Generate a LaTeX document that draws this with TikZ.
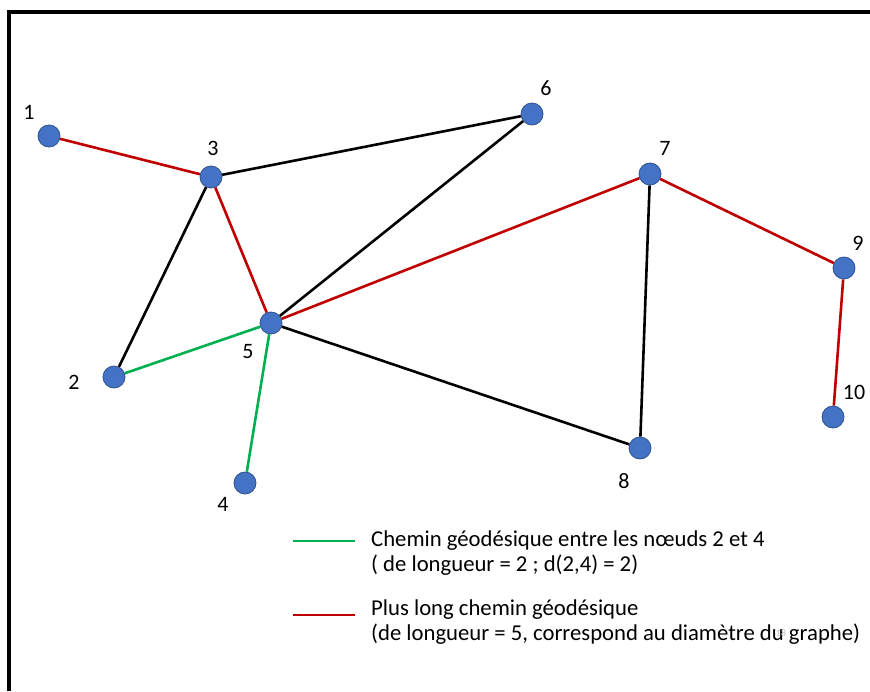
\documentclass[tikz,border=0pt]{standalone}
\usepackage{fontspec}
\setmainfont{Carlito}
\usepackage{tikz}
\definecolor{vblue}{HTML}{4472C4}
\definecolor{vedge}{HTML}{2F528F}
\definecolor{pathred}{HTML}{C00000}
\definecolor{pathgreen}{HTML}{00B050}
\tikzset{
  vtx/.style={circle, fill=vblue, draw=vedge, line width=0.8pt, minimum size=22pt, inner sep=0pt},
  bline/.style={draw=black, line width=2.6pt},
  rline/.style={draw=pathred, line width=2.6pt},
  gline/.style={draw=pathgreen, line width=2.6pt},
  num/.style={font=\fontsize{22}{24}\selectfont, inner sep=0pt},
  legtxt/.style={font=\fontsize{22.7}{25}\selectfont, align=left, anchor=base west, inner sep=0pt}
}
\begin{document}
\begin{tikzpicture}[x=1pt,y=-1pt]
  \useasboundingbox (0,0) rectangle (870,691);
  \draw[line width=3.6pt] (9,691) -- (9,12) -- (870,12);

  % sommets
  \node[vtx] (v1) at (49,136) {};
  \node[vtx] (v2) at (114,377) {};
  \node[vtx] (v3) at (211,177) {};
  \node[vtx] (v4) at (245,483) {};
  \node[vtx] (v5) at (271,323) {};
  \node[vtx] (v6) at (532,114) {};
  \node[vtx] (v7) at (650,174) {};
  \node[vtx] (v8) at (640,448) {};
  \node[vtx] (v9) at (844,268) {};
  \node[vtx] (v10) at (833,417) {};

  \node[num] (l1) at (29,112) {1};
  \node[num] (l2) at (74,382) {2};
  \node[num] (l3) at (213,148) {3};
  \node[num] (l4) at (223,504) {4};
  \node[num] (l5) at (248,352) {5};
  \node[num] (l6) at (546,88) {6};
  \node[num] (l7) at (665,148) {7};
  \node[num] (l8) at (624,481) {8};
  \node[num] (l9) at (858,243) {9};
  \node[num] (l10) at (854,392) {10};

  % aretes
  \draw[bline] (v3) -- (v6);
  \draw[bline] (v3) -- (v2);
  \draw[bline] (v6) -- (v5);
  \draw[bline] (v5) -- (v8);
  \draw[bline] (v7) -- (v8);
  \draw[rline] (v1) -- (v3);
  \draw[rline] (v3) -- (v5);
  \draw[rline] (v5) -- (v7);
  \draw[rline] (v7) -- (v9);
  \draw[rline] (v9) -- (v10);
  \draw[gline] (v2) -- (v5);
  \draw[gline] (v5) -- (v4);

  % legende
  \coordinate (ga) at (293,541);
  \coordinate (gb) at (355,541);
  \coordinate (ra) at (293,615);
  \coordinate (rb) at (355,615);
  \draw[draw=pathgreen, line width=1.5pt] (ga) -- (gb);
  \draw[draw=pathred, line width=1.5pt] (ra) -- (rb);
  \node[legtxt] (t1) at (371,571) {Chemin géodésique entre les nœuds 2 et 4\\( de longueur = 2 ; d(2,4) = 2)};
  \node[legtxt] (t2) at (371,640) {Plus long chemin géodésique\\(de longueur = 5, correspond au diamètre du graphe)};
  \node[font=\fontsize{10}{10}\selectfont, text=black!25] (pg) at (781,633) {18};
\end{tikzpicture}
\end{document}
